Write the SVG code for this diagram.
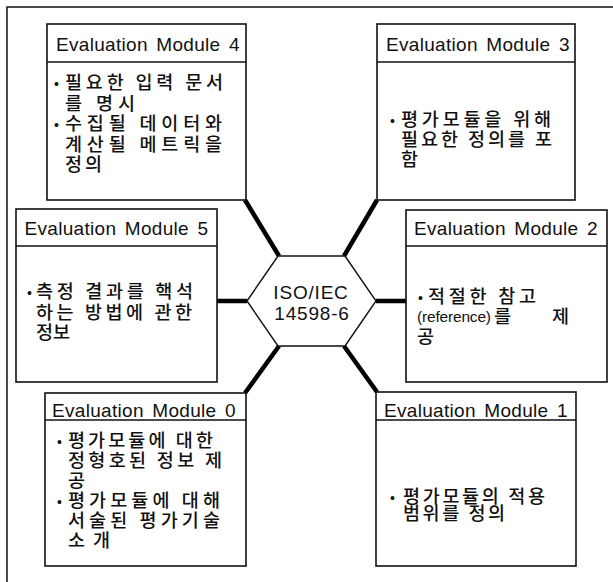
<svg xmlns="http://www.w3.org/2000/svg" width="613" height="582" viewBox="0 0 613 582">
<style>
.frame{fill:none;stroke:#111;stroke-width:1.5}
.box{fill:#fff;stroke:#111;stroke-width:1.6}
.sep{stroke:#111;stroke-width:1.4}
.hdr{font-family:"Liberation Sans",Arial,sans-serif;font-size:19px;letter-spacing:0.3px;word-spacing:3px;fill:#111;text-anchor:middle}
.body{font-family:"Noto Sans CJK KR","Liberation Sans",sans-serif;font-size:18.5px;font-weight:500;fill:#111}
.lat{font-family:"Liberation Sans",Arial,sans-serif;font-size:15.5px;fill:#111}
.bul{font-family:"Liberation Sans",Arial,sans-serif;font-size:14px;fill:#111}
.hex{fill:#fff;stroke:#111;stroke-width:1.4}
.iso{font-family:"Liberation Sans",Arial,sans-serif;font-size:19px;letter-spacing:0.8px;fill:#111;text-anchor:middle}
.conn{stroke:#000;stroke-width:4.5;fill:none}
</style>
<rect width="613" height="582" fill="#fff"/>
<path class="frame" d="M7,582 V7 H613"/>
<g id="connectors">
<line class="conn" x1="245" y1="200" x2="279" y2="256"/>
<line class="conn" x1="377" y1="200" x2="344" y2="256"/>
<line class="conn" x1="216" y1="301" x2="247" y2="301"/>
<line class="conn" x1="376" y1="301" x2="406" y2="301"/>
<line class="conn" x1="279" y1="346" x2="245" y2="393"/>
<line class="conn" x1="344" y1="346" x2="377" y2="392"/>
</g>
<g id="iso">
<polygon class="hex" points="247,301 278,256 345,256 376,301 345,346 278,346"/>
<text class="iso" x="311" y="299">ISO/IEC</text>
<text class="iso" x="312" y="320">14598-6</text>
</g>
<g id="module4">
<rect class="box" x="47" y="24" width="199" height="176"/>
<line class="sep" x1="47" y1="62" x2="246" y2="62"/>
<text class="hdr" x="148" y="51">Evaluation Module 4</text>
<text class="bul" x="54" y="89">•</text>
<text class="body" x="65" y="89" textLength="158">필요한 입력 문서</text>
<text class="body" x="65" y="110" textLength="70">를 명시</text>
<text class="bul" x="54" y="130">•</text>
<text class="body" x="65" y="130" textLength="157">수집될 데이터와</text>
<text class="body" x="65" y="151" textLength="157">계산될 메트릭을</text>
<text class="body" x="65" y="171" textLength="37">정의</text>
</g>
<g id="module3">
<rect class="box" x="377" y="24" width="198" height="176"/>
<line class="sep" x1="377" y1="62" x2="575" y2="62"/>
<text class="hdr" x="478" y="51">Evaluation Module 3</text>
<text class="bul" x="390" y="126">•</text>
<text class="body" x="401" y="126" textLength="150">평가모듈을 위해</text>
<text class="body" x="401" y="146" textLength="151">필요한 정의를 포</text>
<text class="body" x="401" y="166">함</text>
</g>
<g id="module5">
<rect class="box" x="16" y="209" width="201" height="173"/>
<line class="sep" x1="16" y1="246" x2="217" y2="246"/>
<text class="hdr" x="116.5" y="235">Evaluation Module 5</text>
<text class="bul" x="27" y="298">•</text>
<text class="body" x="36" y="298" textLength="157">측정 결과를 핵석</text>
<text class="body" x="36" y="319" textLength="156">하는 방법에 관한</text>
<text class="body" x="36" y="339" textLength="34">정보</text>
</g>
<g id="module2">
<rect class="box" x="406" y="210" width="201" height="172"/>
<line class="sep" x1="406" y1="246" x2="607" y2="246"/>
<text class="hdr" x="506" y="235">Evaluation Module 2</text>
<text class="bul" x="418" y="303">•</text>
<text class="body" x="428" y="303" textLength="108">적절한 참고</text>
<text class="lat" x="417" y="322" textLength="74">(reference)</text>
<text class="body" x="494" y="323" textLength="75">를 제</text>
<text class="body" x="417" y="343">공</text>
</g>
<g id="module0">
<rect class="box" x="45" y="393" width="201" height="173"/>
<line class="sep" x1="45" y1="420" x2="246" y2="420"/>
<text class="hdr" x="144" y="417">Evaluation Module 0</text>
<text class="bul" x="57" y="447">•</text>
<text class="body" x="68" y="447" textLength="145">평가모듈에 대한</text>
<text class="body" x="68" y="467" textLength="154">정형호된 정보 제</text>
<text class="body" x="68" y="487">공</text>
<text class="bul" x="57" y="507">•</text>
<text class="body" x="68" y="507" textLength="152">평가모듈에 대해</text>
<text class="body" x="68" y="527" textLength="152">서술된 평가기술</text>
<text class="body" x="68" y="547" textLength="42">소개</text>
</g>
<g id="module1">
<rect class="box" x="376" y="392" width="200" height="174"/>
<line class="sep" x1="376" y1="420" x2="576" y2="420"/>
<text class="hdr" x="476" y="417">Evaluation Module 1</text>
<text class="bul" x="390" y="503">•</text>
<text class="body" x="403" y="503" textLength="142">평가모듈의 적용</text>
<text class="body" x="403" y="520" textLength="102">범위를 정의</text>
</g>
</svg>
